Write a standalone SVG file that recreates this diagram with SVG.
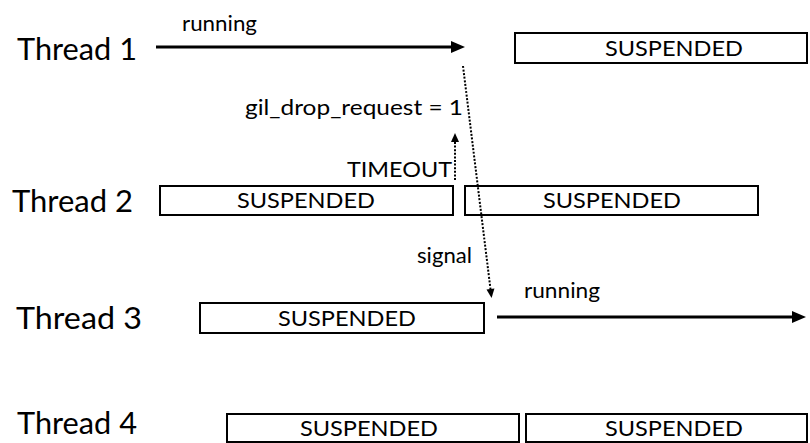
<svg xmlns="http://www.w3.org/2000/svg" width="810" height="443" viewBox="0 0 810 443">
<defs>
<style>
text{font-family:Lato,"Open Sans","Liberation Sans",sans-serif;fill:#000}
.th{font-size:31px}
.lb{font-size:21.5px}
.box{fill:#fff;stroke:#000;stroke-width:2}
.run{stroke:#000;stroke-width:3;fill:none}
.dot{stroke:#000;stroke-width:2;stroke-dasharray:2 1.6;fill:none}
</style>
<marker id="ah" markerUnits="userSpaceOnUse" markerWidth="14" markerHeight="12" refX="2" refY="6" orient="auto" overflow="visible">
<path d="M0,0 L14,6 L0,12 z" fill="#000"/>
</marker>
<marker id="dh" markerUnits="userSpaceOnUse" markerWidth="9" markerHeight="8" refX="1" refY="4" orient="auto" overflow="visible">
<path d="M0,0 L9,4 L0,8 z" fill="#000"/>
</marker>
</defs>
<rect width="810" height="443" fill="#fff"/>

<g id="thread1">
<text class="th" x="17" y="60" textLength="120" lengthAdjust="spacingAndGlyphs">Thread 1</text>
<rect class="box" x="515" y="33" width="292" height="30"/>
<text class="lb" x="605" y="56" textLength="138" lengthAdjust="spacingAndGlyphs">SUSPENDED</text>
</g>

<g id="thread2">
<text class="th" x="12" y="212" textLength="121" lengthAdjust="spacingAndGlyphs">Thread 2</text>
<rect class="box" x="160" y="186" width="293" height="29"/>
<text class="lb" x="237" y="208" textLength="138" lengthAdjust="spacingAndGlyphs">SUSPENDED</text>
<rect class="box" x="465" y="186" width="293" height="29"/>
<text class="lb" x="543" y="208" textLength="138" lengthAdjust="spacingAndGlyphs">SUSPENDED</text>
</g>

<g id="thread3">
<text class="th" x="16" y="329" textLength="126" lengthAdjust="spacingAndGlyphs">Thread 3</text>
<rect class="box" x="200" y="303" width="284" height="30"/>
<text class="lb" x="278" y="326" textLength="138" lengthAdjust="spacingAndGlyphs">SUSPENDED</text>
</g>

<g id="thread4">
<text class="th" x="17" y="434" textLength="120" lengthAdjust="spacingAndGlyphs">Thread 4</text>
<rect class="box" x="227" y="414" width="292" height="28"/>
<text class="lb" x="300" y="436" textLength="138" lengthAdjust="spacingAndGlyphs">SUSPENDED</text>
<rect class="box" x="526" y="414" width="281" height="28"/>
<text class="lb" x="605" y="436" textLength="138" lengthAdjust="spacingAndGlyphs">SUSPENDED</text>
</g>

<g id="connectors">
<line class="run" x1="156" y1="47" x2="453" y2="47" marker-end="url(#ah)"/>
<text class="lb" x="182" y="31" textLength="75" lengthAdjust="spacingAndGlyphs">running</text>
<line class="run" x1="497" y1="317" x2="794" y2="317" marker-end="url(#ah)"/>
<text class="lb" x="524" y="298" textLength="76" lengthAdjust="spacingAndGlyphs">running</text>
<line class="dot" x1="455" y1="180" x2="455" y2="141" marker-end="url(#dh)"/>
<text class="lb" x="347" y="177" textLength="105" lengthAdjust="spacingAndGlyphs">TIMEOUT</text>
<text class="lb" x="245" y="115" textLength="218" lengthAdjust="spacingAndGlyphs">gil_drop_request = 1</text>
<line class="dot" x1="463" y1="66" x2="490.6" y2="290" marker-end="url(#dh)"/>
<text class="lb" x="417" y="263" textLength="55" lengthAdjust="spacingAndGlyphs">signal</text>
</g>
</svg>
